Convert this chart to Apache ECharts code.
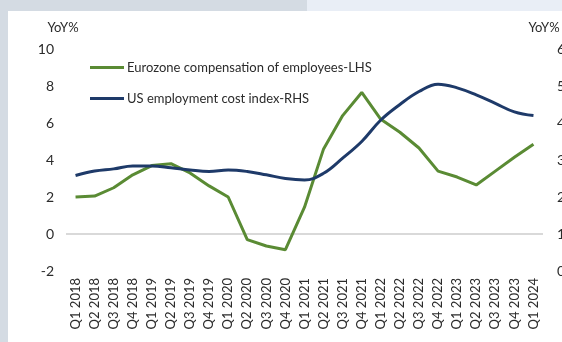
<!DOCTYPE html>
<html>
<head>
<meta charset="utf-8">
<script src="https://cdn.jsdelivr.net/npm/echarts@6/dist/echarts.min.js"></script>
<style>
  html, body { margin: 0; padding: 0; }
  body { width: 562px; height: 342px; background: #d4dbe3; position: relative; overflow: hidden; }
  #band { position: absolute; left: 307px; top: 0; width: 255px; height: 11px; background: #e9eef6; }
  #panel { position: absolute; left: 8px; top: 11px; right: 0; bottom: 0; background: #ffffff; }
  #chart { position: absolute; left: 0; top: 0; width: 562px; height: 342px; }
</style>
</head>
<body>
<div id="band"></div>
<div id="panel"></div>
<div id="chart"></div>
<script>
// Quarterly categories
const quarters = [
  'Q1 2018','Q2 2018','Q3 2018','Q4 2018',
  'Q1 2019','Q2 2019','Q3 2019','Q4 2019',
  'Q1 2020','Q2 2020','Q3 2020','Q4 2020',
  'Q1 2021','Q2 2021','Q3 2021','Q4 2021',
  'Q1 2022','Q2 2022','Q3 2022','Q4 2022',
  'Q1 2023','Q2 2023','Q3 2023','Q4 2023',
  'Q1 2024'
];

// Eurozone compensation of employees, YoY % (left axis)
const eurozoneComp = [
  2.0, 2.05, 2.5, 3.2,
  3.7, 3.8, 3.3, 2.6,
  2.0, -0.3, -0.65, -0.85,
  1.45, 4.6, 6.4, 7.65,
  6.2, 5.5, 4.65, 3.4,
  3.08, 2.65, 3.4, 4.15,
  4.85
];

// US employment cost index, YoY % (right axis)
const usECI = [
  2.58, 2.7, 2.76, 2.84,
  2.84, 2.79, 2.73, 2.69,
  2.73, 2.69, 2.6, 2.5,
  2.46, 2.64, 3.05, 3.5,
  4.08, 4.5, 4.85, 5.05,
  4.95, 4.76, 4.53, 4.3,
  4.2
];

const seriesNames = ['Eurozone compensation of employees-LHS', 'US employment cost index-RHS'];
const axisTitle = 'YoY%';

const FONT = 'Lato, "Noto Sans", sans-serif';
const TEXT = '#2b2b2b';
const GREEN = '#5a8b34';
const NAVY = '#1e3a69';

const chart = echarts.init(document.getElementById('chart'), null, { renderer: 'canvas' });

chart.setOption({
  backgroundColor: 'transparent',
  animation: false,
  textStyle: { fontFamily: FONT },
  grid: {
    left: 66, right: 19, top: 49, bottom: 71,
    containLabel: false,
    outerBoundsMode: 'none'
  },
  legend: {
    orient: 'vertical',
    left: 85,
    top: 56,
    itemGap: 18,
    itemWidth: 34,
    itemHeight: 3,
    icon: 'rect',
    textStyle: { fontFamily: FONT, fontSize: 13, color: TEXT, padding: [0, 0, 0, -2] },
    data: seriesNames
  },
  xAxis: {
    type: 'category',
    data: quarters,
    boundaryGap: true,
    axisLine: { show: false },
    axisTick: { show: false },
    splitLine: { show: false },
    axisLabel: {
      rotate: 90,
      interval: 0,
      margin: 7,
      fontFamily: FONT,
      fontSize: 13,
      color: TEXT
    }
  },
  yAxis: [
    {
      type: 'value',
      min: -2, max: 10, interval: 2,
      position: 'left',
      name: axisTitle,
      nameLocation: 'end',
      nameGap: 15,
      nameTextStyle: { fontFamily: FONT, fontSize: 13, color: TEXT, padding: [0, 0, 0, -6] },
      axisLine: { show: false },
      axisTick: { show: false },
      splitLine: { show: false },
      axisLabel: { margin: 12, fontFamily: FONT, fontSize: 14, color: TEXT }
    },
    {
      type: 'value',
      min: 0, max: 6, interval: 1,
      position: 'right',
      name: axisTitle,
      nameLocation: 'end',
      nameGap: 15,
      nameTextStyle: { fontFamily: FONT, fontSize: 13, color: TEXT, padding: [0, 0, 0, 2] },
      axisLine: { show: false },
      axisTick: { show: false },
      splitLine: { show: false },
      axisLabel: { margin: 14, fontFamily: FONT, fontSize: 14, color: TEXT }
    }
  ],
  series: [
    {
      name: seriesNames[0],
      type: 'line',
      yAxisIndex: 0,
      data: eurozoneComp,
      symbol: 'none',
      smooth: false,
      color: GREEN,
      lineStyle: { color: GREEN, width: 3 },
      z: 3,
      markLine: {
        silent: true,
        symbol: ['none', 'none'],
        label: { show: false },
        lineStyle: { color: '#d9d9d9', type: 'solid', width: 2 },
        data: [{ yAxis: 0 }],
        z: 1
      }
    },
    {
      name: seriesNames[1],
      type: 'line',
      yAxisIndex: 1,
      data: usECI,
      symbol: 'none',
      smooth: 0.4,
      color: NAVY,
      lineStyle: { color: NAVY, width: 3 },
      z: 4
    }
  ]
});
</script>
</body>
</html>
